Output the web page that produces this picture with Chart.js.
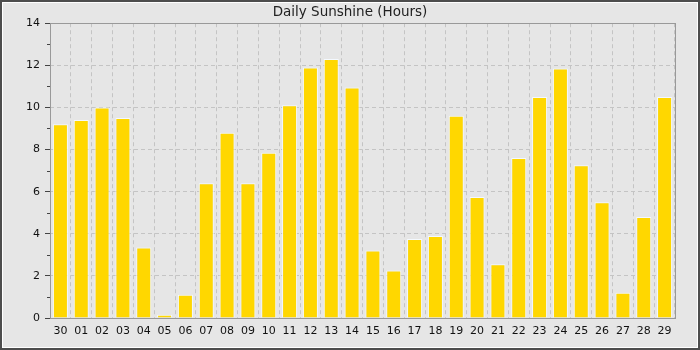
<!DOCTYPE html>
<html>
<head>
<meta charset="utf-8">
<script src="https://cdn.jsdelivr.net/npm/chart.js@4"></script>
<style>
  html, body { margin: 0; padding: 0; background: #e6e6e6; }
  #wrap { width: 700px; height: 350px; }
</style>
</head>
<body>
<div id="wrap"><canvas id="sunChart" width="700" height="350"></canvas></div>
<script>
const days = ['30', '01', '02', '03', '04', '05', '06', '07', '08', '09', '10', '11', '12', '13', '14',
              '15', '16', '17', '18', '19', '20', '21', '22', '23', '24', '25', '26', '27', '28', '29'];
const sunshine = [9.2, 9.4, 10.0, 9.5, 3.35, 0.15, 1.1, 6.4, 8.8, 6.4, 7.85, 10.1, 11.9, 12.3, 10.95,
                  3.2, 2.25, 3.75, 3.9, 9.6, 5.75, 2.55, 7.6, 10.5, 11.85, 7.25, 5.5, 1.2, 4.8, 10.5];
const yTicks = [0, 2, 4, 6, 8, 10, 12, 14];

const sunChart = document.getElementById('sunChart');

// frame, plot outline and minor y ticks
const decor = {
    id: 'decor',
    beforeDraw(chart) {
        const ctx = chart.ctx;
        ctx.save();
        ctx.fillStyle = '#4d4d4d';
        ctx.fillRect(0, 0, 700, 350);
        ctx.fillStyle = '#ffffff';
        ctx.fillRect(2, 2, 696, 346);
        ctx.fillStyle = '#e6e6e6';
        ctx.fillRect(3, 3, 694, 344);
        ctx.restore();
    },
    afterDraw(chart) {
        const ctx = chart.ctx;
        const a = chart.chartArea;
        const y = chart.scales.y;
        ctx.save();
        ctx.strokeStyle = '#999999';
        ctx.lineWidth = 1;
        ctx.strokeRect(Math.round(a.left) + 0.5, Math.round(a.top) + 0.5,
                       Math.round(a.right - a.left), Math.round(a.bottom - a.top));
        ctx.beginPath();
        for (let v = 1; v < 14; v += 2) {
            const py = Math.round(y.getPixelForValue(v)) + 0.5;
            ctx.moveTo(a.left - 3, py);
            ctx.lineTo(a.left, py);
        }
        ctx.strokeStyle = '#444444';
        ctx.stroke();
        ctx.restore();
    }
};

new Chart(sunChart, {
    type: 'bar',
    data: {
        labels: days,
        datasets: [{
            label: 'Sunshine',
            data: sunshine,
            backgroundColor: '#ffd700',
            borderColor: '#f4f9ff',
            borderWidth: 1,
            barPercentage: 0.72,
            categoryPercentage: 1,
        }]
    },
    options: {
        responsive: false,
        animation: false,
        layout: {
            padding: { top: 3, left: 3, right: 3, bottom: 3 }
        },
        plugins: {
            legend: { display: false },
            tooltip: { enabled: false },
            title: {
                display: true,
                text: 'Daily Sunshine (Hours)',
                color: '#222222',
                font: { family: 'DejaVu Sans', size: 13.5, weight: 'normal' },
                padding: { top: 1, bottom: 3 }
            }
        },
        scales: {
            x: {
                grid: {
                    color: '#c4c4c4',
                    drawTicks: false,
                    offset: true,
                },
                border: { display: false, dash: [4, 3] },
                ticks: {
                    color: '#111111',
                    font: { family: 'DejaVu Sans', size: 11 },
                    padding: 7,
                    maxRotation: 0,
                    autoSkip: false,
                },
                afterFit: s => { s.height = 29; }
            },
            y: {
                min: 0,
                max: 14,
                afterBuildTicks: s => { s.ticks = yTicks.map(v => ({ value: v })); },
                grid: {
                    color: ctx => (ctx.tick && ctx.tick.value === 0) ? 'rgba(0,0,0,0)' : '#c4c4c4',
                    tickColor: '#444444',
                    tickLength: 5,
                },
                border: { display: false, dash: [4, 3] },
                ticks: {
                    color: '#111111',
                    font: { family: 'DejaVu Sans', size: 11 },
                    padding: 5,
                },
                afterFit: s => { s.width = 47; }
            },
            // empty right margin so the title centres on the whole picture
            yRight: {
                position: 'right',
                min: 0,
                max: 14,
                grid: { display: false },
                border: { display: false },
                ticks: { display: false },
                afterFit: s => { s.width = 22; }
            }
        }
    },
    plugins: [decor]
});
</script>
</body>
</html>
